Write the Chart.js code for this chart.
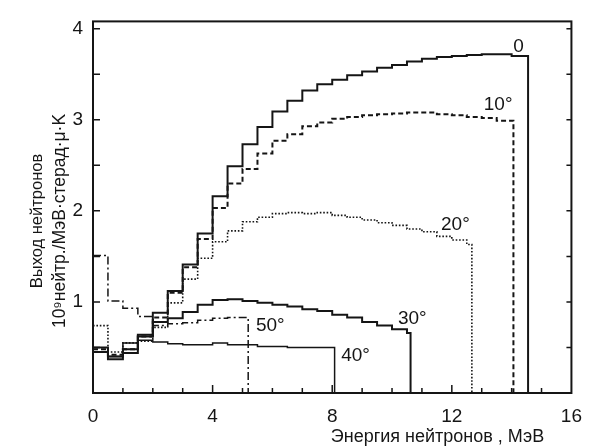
<!DOCTYPE html>
<html>
<head>
<meta charset="utf-8">
<script src="https://cdn.jsdelivr.net/npm/chart.js@4"></script>
<style>
  html, body { margin: 0; padding: 0; background: #fff; }
  #wrap { width: 594px; height: 447px; }
</style>
</head>
<body>
<div id="wrap"><canvas id="spectrum"></canvas></div>
<script>
/* ==================== DATA ==================== */
// neutron yield spectra, 0.5 MeV bins starting at 0 MeV
const binWidth = 0.5;
const angles   = ['0', '10°', '20°', '30°', '40°', '50°'];

const yield0  = [0.45,0.37,0.44,0.64,0.88,1.12,1.41,1.75,2.16,2.49,2.73,2.92,3.09,3.21,3.32,3.39,
                 3.44,3.49,3.53,3.57,3.60,3.64,3.67,3.69,3.70,3.71,3.72,3.72,3.70];
const yield10 = [0.48,0.42,0.48,0.62,0.83,1.10,1.38,1.69,2.03,2.30,2.46,2.63,2.77,2.84,2.93,2.97,
                 3.01,3.03,3.05,3.06,3.07,3.08,3.08,3.06,3.05,3.03,3.02,2.99];
const yield20 = [0.74,0.45,0.55,0.57,0.72,0.99,1.25,1.48,1.66,1.78,1.88,1.93,1.97,1.98,1.97,1.98,
                 1.95,1.93,1.90,1.87,1.84,1.80,1.77,1.72,1.68,1.63];
const yield30 = [0.50,0.40,0.48,0.62,0.78,0.82,0.89,0.97,1.02,1.03,1.01,0.99,0.97,0.95,0.92,0.90,
                 0.86,0.83,0.78,0.74,0.70,0.66];
const yield40 = [0.45,0.40,0.55,0.58,0.56,0.54,0.53,0.53,0.55,0.53,0.53,0.51,0.51,0.50,0.50,0.50,0.50];
const yield50 = [1.51,1.01,0.93,0.84,0.74,0.76,0.77,0.80,0.82,0.83,0.83];

// energy where each spectrum is cut off (MeV)
const cutoffs = [14.55, 14.06, 12.67, 10.62, 8.08, 5.19];

// where the angle labels sit, in data units (MeV, yield)
const labelE = [14.23, 13.55, 12.12, 10.68, 8.78, 5.93];
const labelY = [3.80, 3.16, 1.85, 0.81, 0.41, 0.74];

const xTicks = [0, 4, 8, 12, 16];
const yTicks = [0, 1, 2, 3, 4];

const xTitle  = 'Энергия нейтронов , МэВ';
const yTitle1 = 'Выход нейтронов';
const yTitle2 = '10⁹нейтр./МэВ·стерад·μ·K';

/* ==================== HELPERS ==================== */
function histPoints(vals, cutoff) {
  const pts = vals.map((v, i) => ({ x: i * binWidth, y: v }));
  pts.push({ x: cutoff, y: 0 });
  return pts;
}

const ink = '#151515';
const FONT = '"Liberation Sans", Arial, sans-serif';

const spectra = [yield0, yield10, yield20, yield30, yield40, yield50];
const styles = [
  { borderWidth: 2,   borderDash: [] },
  { borderWidth: 2,   borderDash: [5, 3] },
  { borderWidth: 1.6, borderDash: [1.6, 1.8] },
  { borderWidth: 2,   borderDash: [] },
  { borderWidth: 1.5, borderDash: [] },
  { borderWidth: 1.5, borderDash: [8, 3, 2, 3] }
];

const frameAndLabels = {
  id: 'frameAndLabels',
  afterDatasetsDraw(chart) {
    const { ctx, chartArea: a, scales: { x, y } } = chart;
    ctx.save();
    ctx.strokeStyle = ink;
    ctx.lineWidth = 2;
    ctx.strokeRect(a.left, a.top, a.right - a.left, a.bottom - a.top);

    // inward ticks
    ctx.lineWidth = 1.5;
    ctx.beginPath();
    for (let e = 1; e < 16; e++) {
      const px = x.getPixelForValue(e);
      const len = e % 4 === 0 ? 8 : 5;
      ctx.moveTo(px, a.bottom); ctx.lineTo(px, a.bottom - len);
    }
    for (let v = 0.5; v <= 4; v += 0.5) {
      const py = y.getPixelForValue(v);
      ctx.moveTo(a.left, py);  ctx.lineTo(a.left + 7, py);
      ctx.moveTo(a.right, py); ctx.lineTo(a.right - 5, py);
    }
    ctx.stroke();

    // angle labels
    ctx.fillStyle = ink;
    ctx.font = '19px ' + FONT;
    ctx.textAlign = 'center';
    ctx.textBaseline = 'middle';
    angles.forEach((t, i) => {
      ctx.fillText(t, x.getPixelForValue(labelE[i]), y.getPixelForValue(labelY[i]));
    });

    // axis titles
    ctx.font = '18px ' + FONT;
    ctx.fillText(xTitle, a.left + (a.right - a.left) * 0.72, 437);

    ctx.translate(0, 221);
    ctx.rotate(-Math.PI / 2);
    ctx.font = '16.5px ' + FONT;
    ctx.fillText(yTitle1, 0, 37);
    ctx.font = '17.5px ' + FONT;
    ctx.fillText(yTitle2, 0, 60);
    ctx.restore();
  }
};

/* ==================== CHART ==================== */
new Chart(document.getElementById('spectrum'), {
  type: 'line',
  data: {
    datasets: spectra.map((vals, i) => ({
      label: angles[i],
      data: histPoints(vals, cutoffs[i]),
      stepped: 'before',
      borderColor: ink,
      borderWidth: styles[i].borderWidth,
      borderDash: styles[i].borderDash,
      pointRadius: 0,
      fill: false,
      tension: 0
    }))
  },
  options: {
    responsive: true, maintainAspectRatio: false, animation: false,
    layout: { padding: { left: 0, right: 12, top: 14, bottom: 0 } },
    plugins: { legend: { display: false }, tooltip: { enabled: false } },
    scales: {
      x: {
        type: 'linear', min: 0, max: 16,
        afterFit: s => { s.height = 54; },
        afterBuildTicks: s => { s.ticks = xTicks.map(v => ({ value: v })); },
        grid: { drawOnChartArea: false, drawTicks: false },
        border: { display: false },
        ticks: { color: ink, padding: 12, maxRotation: 0, font: { family: FONT, size: 19 } }
      },
      y: {
        type: 'linear', min: 0, max: 4.08,
        afterFit: s => { s.width = 93; },
        afterBuildTicks: s => { s.ticks = yTicks.map(v => ({ value: v })); },
        grid: { drawOnChartArea: false, drawTicks: false },
        border: { display: false },
        ticks: {
          color: ink, padding: 10, font: { family: FONT, size: 19 },
          callback: v => (v === 0 ? '' : v)
        }
      }
    }
  },
  plugins: [frameAndLabels]
});
</script>
</body>
</html>
